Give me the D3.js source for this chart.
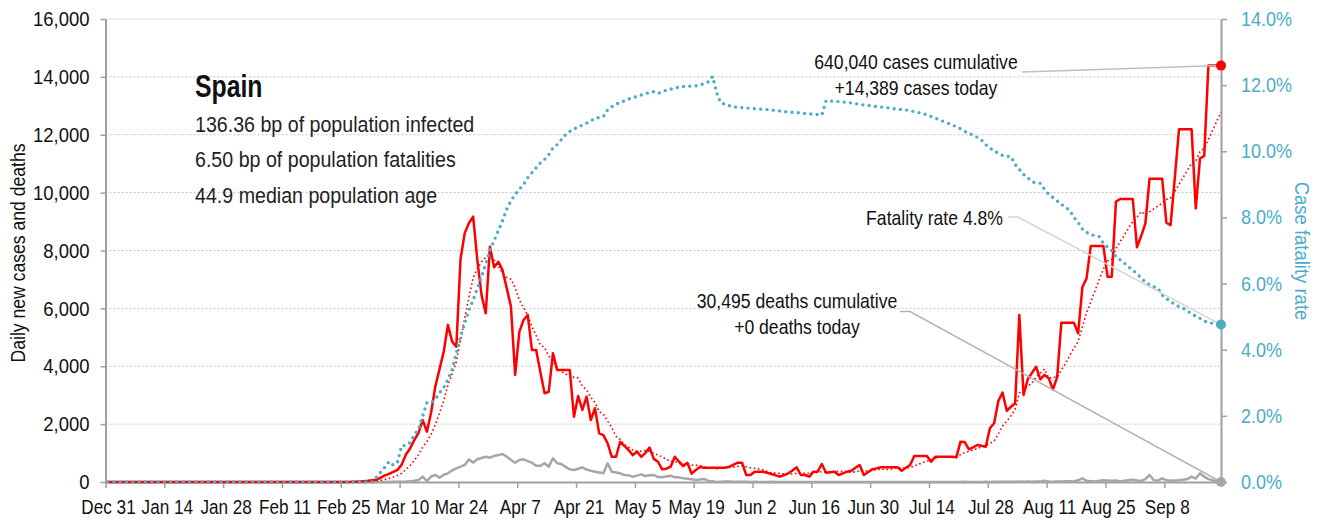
<!DOCTYPE html>
<html><head><meta charset="utf-8">
<script src="https://cdn.jsdelivr.net/npm/d3@7"></script>
<style>
body{margin:0;background:#fff;}
svg text{font-family:"Liberation Sans",Arial,sans-serif;}
</style></head><body>
<svg id="chart" width="1320" height="522"></svg>
<script>
// ---------------- DATA ----------------
const startDate = "2019-12-31";   // first day of the series, one value per day up to 2020-09-21
const dailyCases = [
  0,0,0,0,0,0,0,0,0,0,
  0,0,0,0,0,0,0,0,0,0,
  0,0,0,0,0,0,0,0,0,0,
  0,0,1,0,0,0,0,0,0,0,
  0,1,0,0,0,0,0,0,0,0,
  0,0,0,0,0,0,2,4,6,12,
  20,30,40,60,80,150,230,280,350,420,
  600,950,1160,1450,1700,2140,1740,2400,3300,3900,
  4500,5430,4850,4680,7700,8600,8950,9170,7670,6460,
  5830,8130,7420,7610,7320,6700,6060,3700,5190,5600,
  5770,4560,4560,3800,3065,3120,4450,3870,3870,3870,
  3870,2256,2970,2490,2950,2140,2550,1680,1620,1340,
  870,870,1390,1250,1106,930,1050,870,1000,1190,
  800,700,440,460,530,874,700,553,667,290,
  415,520,495,495,495,495,495,495,530,600,
  667,667,242,242,357,357,357,320,276,230,
  184,240,300,400,507,242,242,184,357,357,
  622,322,340,357,242,300,357,391,490,587,
  242,340,439,470,507,507,507,507,507,391,
  490,587,898,898,898,898,702,874,874,874,
  874,874,853,1393,1380,1130,1200,1278,1250,1220,
  1855,2028,2800,3090,2460,2600,2720,5770,3006,3550,
  3770,3980,3550,3700,3580,3200,3620,5500,5500,5500,
  5500,5140,6730,7040,8155,8155,8155,8155,7094,7094,
  9690,9780,9780,9780,9780,8110,8500,8940,10480,10480,
  10480,10480,8960,8880,10500,12187,12187,12187,12187,9457,
  11185,11265,14389,14389,14389,14389
];
const dailyDeaths = [
  0,0,0,0,0,0,0,0,0,0,
  0,0,0,0,0,0,0,0,0,0,
  0,0,0,0,0,0,0,0,0,0,
  0,0,0,0,0,0,0,0,0,0,
  0,0,0,0,0,0,0,0,0,0,
  0,0,0,0,0,0,0,0,0,0,
  0,0,0,0,1,1,2,3,5,8,
  10,15,25,40,70,184,30,190,240,150,
  250,300,400,470,530,590,780,670,784,830,
  874,840,898,930,967,874,760,667,760,784,
  720,667,560,560,646,530,819,646,622,520,
  439,415,460,507,430,391,357,330,300,646,
  357,330,300,242,230,184,220,265,207,230,
  242,170,162,190,218,162,160,128,110,93,
  69,90,104,35,30,0,10,20,15,5,
  5,10,5,2,5,2,3,2,5,3,
  2,3,2,1,2,3,1,2,3,2,
  1,2,1,2,3,1,2,3,1,2,
  1,2,3,1,2,1,2,3,1,2,
  2,1,3,2,1,2,3,1,2,2,
  3,2,4,2,5,3,2,4,3,5,
  4,6,5,8,10,6,5,20,10,15,
  10,15,20,45,20,10,15,20,25,30,
  20,60,128,40,30,20,40,60,50,40,
  50,30,40,60,80,50,40,100,242,60,
  50,128,60,40,50,60,80,100,184,120,
  300,184,100,60,20,0
];
const fatalityRate = [ // case fatality rate, percent
  0,0,0,0,0,0,0,0,0,0,
  0,0,0,0,0,0,0,0,0,0,
  0,0,0,0,0,0,0,0,0,0,
  0,0,0,0,0,0,0,0,0,0,
  0,0,0,0,0,0,0,0,0,0,
  0,0,0,0,0,0,0,0,0,0,
  0,0,0,0,0.15,0.3,0.45,0.62,0.51,0.6,
  1.1,1.1,1.2,1.42,1.6,2.0,2.4,2.4,2.5,2.7,
  2.85,3.1,3.4,3.9,4.4,4.8,5.2,5.5,5.85,6.2,
  6.6,7.0,7.3,7.6,7.9,8.25,8.5,8.7,8.85,9.0,
  9.2,9.35,9.5,9.65,9.75,9.9,10.1,10.2,10.35,10.5,
  10.6,10.68,10.72,10.8,10.85,10.92,11.0,11.02,11.05,11.25,
  11.35,11.42,11.48,11.52,11.58,11.62,11.66,11.7,11.74,11.78,
  11.8,11.75,11.8,11.85,11.88,11.9,11.95,11.96,11.97,11.97,
  11.98,12.0,12.05,12.1,12.26,11.75,11.45,11.43,11.38,11.35,
  11.33,11.32,11.31,11.3,11.29,11.28,11.27,11.26,11.25,11.23,
  11.22,11.2,11.19,11.18,11.17,11.16,11.14,11.13,11.12,11.11,
  11.1,11.53,11.52,11.51,11.5,11.49,11.48,11.46,11.44,11.42,
  11.4,11.39,11.37,11.35,11.34,11.32,11.31,11.29,11.28,11.26,
  11.25,11.22,11.2,11.17,11.15,11.1,11.05,11.0,10.95,10.9,
  10.85,10.8,10.74,10.68,10.6,10.54,10.49,10.42,10.34,10.2,
  10.1,10.0,9.95,9.87,9.85,9.84,9.6,9.45,9.3,9.2,
  9.08,9.05,9.03,8.85,8.7,8.6,8.5,8.4,8.3,8.22,
  8.0,7.85,7.65,7.55,7.48,7.45,7.42,7.22,7.1,7.0,
  6.81,6.72,6.62,6.5,6.41,6.3,6.16,6.05,5.96,5.9,
  5.86,5.65,5.55,5.45,5.38,5.3,5.25,5.18,5.08,5.02,
  4.95,4.87,4.82,4.8,4.78,4.76
];
const leftTicks = [0,2000,4000,6000,8000,10000,12000,14000,16000];
const rightTicks = [0,2,4,6,8,10,12,14];
const xTickDates = ["2019-12-31","2020-01-14","2020-01-28","2020-02-11","2020-02-25","2020-03-10",
  "2020-03-24","2020-04-07","2020-04-21","2020-05-05","2020-05-19","2020-06-02","2020-06-16",
  "2020-06-30","2020-07-14","2020-07-28","2020-08-11","2020-08-25","2020-09-08"];
const xTickLabels = ["Dec 31","Jan 14","Jan 28","Feb 11","Feb 25","Mar 10","Mar 24","Apr 7","Apr 21",
  "May 5","May 19","Jun 2","Jun 16","Jun 30","Jul 14","Jul 28","Aug 11","Aug 25","Sep 8"];
const countryName = "Spain";
const statLines = ["136.36 bp of population infected","6.50 bp of population fatalities","44.9 median population age"];
const casesNote = ["640,040 cases cumulative","+14,389 cases today"];
const deathsNote = ["30,495 deaths cumulative","+0 deaths today"];
const rateNote = "Fatality rate 4.8%";
const leftTitle = "Daily new cases and deaths";
const rightTitle = "Case fatality rate";

// ---------------- CHART ----------------
const RED="#ff0000", BLUE="#4bacc6", GREY="#a6a6a6", AXIS="#a0a0a0";
const SX=0.88; // horizontal condensing of the text face
const P={left:105.5,right:1221,top:19,bottom:482};
const svg=d3.select("#chart");
const parse=d3.utcParse("%Y-%m-%d");
const t0=parse(startDate);
const dates=dailyCases.map((_,i)=>d3.utcHour.offset(d3.utcDay.offset(t0,i),12));
const x=d3.scaleUtc().domain([t0,dates[dates.length-1]]).range([P.left,P.right]);
const yL=d3.scaleLinear().domain([0,16000]).range([P.bottom,P.top]);
const yR=d3.scaleLinear().domain([0,14]).range([P.bottom,P.top]);

function condense(sel,sx=SX){
  sel.each(function(){
    const t=d3.select(this);
    const xv=+(t.attr("x")||0);
    t.attr("x",xv/sx);
    const dx=t.attr("dx");
    if(dx!=null && !isNaN(+dx)) t.attr("dx",(+dx)/sx);
    const tr=t.attr("transform")||"";
    t.attr("transform",(tr+` scale(${sx},1)`).trim());
  });
  return sel;
}

// 7-day trailing average of daily cases (trend line)
const trend=dailyCases.map((v,i)=>i<6?null:d3.mean(dailyCases.slice(i-6,i+1)));

// grid
svg.append("g").selectAll("line").data(leftTicks.filter(v=>v>0)).join("line")
  .attr("x1",P.left).attr("x2",P.right).attr("y1",d=>yL(d)).attr("y2",d=>yL(d))
  .attr("stroke","#c4c4c4").attr("stroke-width",1).attr("stroke-dasharray","2,2");

// axes
const gL=svg.append("g").attr("transform",`translate(${P.left},0)`)
  .call(d3.axisLeft(yL).tickValues(leftTicks).tickFormat(d3.format(",")).tickSize(5).tickSizeOuter(0).tickPadding(11));
const gR=svg.append("g").attr("transform",`translate(${P.right},0)`)
  .call(d3.axisRight(yR).tickValues(rightTicks).tickFormat(d=>d.toFixed(1)+"%").tickSize(6).tickSizeOuter(0).tickPadding(14));
const gB=svg.append("g").attr("transform",`translate(0,${P.bottom})`)
  .call(d3.axisBottom(x).tickValues(xTickDates.map(parse)).tickFormat((d,i)=>xTickLabels[i]).tickSize(6).tickSizeOuter(0).tickPadding(12));
[gL,gR,gB].forEach(g=>{
  g.select(".domain").attr("stroke",AXIS).attr("stroke-width",2);
  g.selectAll(".tick line").attr("stroke",AXIS).attr("stroke-width",1.5);
  g.selectAll("text").attr("font-family",null).attr("font-size",21).attr("fill","#111");
});
gR.selectAll("text").attr("fill",BLUE).attr("font-size",20.5);
gB.selectAll("text").attr("font-size",19.5).attr("dx",2.5);
[gL,gR,gB].forEach(g=>condense(g.selectAll("text")));

// axis titles
condense(svg.append("text").attr("transform","translate(25,253) rotate(-90)").attr("text-anchor","middle")
  .attr("font-size",20).attr("fill","#111").text(leftTitle));
condense(svg.append("text").attr("transform","translate(1295,251) rotate(90)").attr("text-anchor","middle")
  .attr("font-size",21).attr("fill",BLUE).text(rightTitle));

// series
const lineL=d3.line().defined(d=>d!=null).x((d,i)=>x(dates[i])).y(d=>yL(d));
const lineR=d3.line().x((d,i)=>x(dates[i])).y(d=>yR(d));
svg.append("path").attr("d",lineL(dailyDeaths)).attr("fill","none").attr("stroke",GREY).attr("stroke-width",2.5).attr("stroke-linejoin","round");
svg.append("path").attr("d",lineL(dailyCases)).attr("fill","none").attr("stroke",RED).attr("stroke-width",2.5).attr("stroke-linejoin","round");
svg.append("path").attr("d",lineL(trend)).attr("fill","none").attr("stroke",RED).attr("stroke-width",1.6).attr("stroke-dasharray","1.6,2.6");
svg.append("path").attr("d",lineR(fatalityRate)).attr("fill","none").attr("stroke",BLUE).attr("stroke-width",3.4)
  .attr("stroke-linecap","round").attr("stroke-dasharray","0,6.3");

// annotations
const last=dailyCases.length-1;
const xl=x(dates[last]);
function leader(points,color){
  svg.append("polyline").attr("points",points.map(p=>p.join(",")).join(" "))
    .attr("fill","none").attr("stroke",color).attr("stroke-width",1.5);
}
leader([[1022,72],[xl,yL(dailyCases[last])]],"#c0c0c0");
leader([[1008,217],[1018,217],[xl,yR(fatalityRate[last])]],"#d4d4d4");
leader([[900,311.5],[910,311.5],[xl,yL(dailyDeaths[last])]],"#b4b4b4");

svg.append("circle").attr("cx",xl).attr("cy",yL(dailyCases[last])).attr("r",5).attr("fill",RED);
svg.append("circle").attr("cx",xl).attr("cy",yR(fatalityRate[last])).attr("r",5).attr("fill",BLUE);
svg.append("circle").attr("cx",xl).attr("cy",yL(dailyDeaths[last])).attr("r",5).attr("fill",GREY);

condense(svg.append("text").attr("x",195).attr("y",97).attr("font-size",31).attr("font-weight","bold").attr("fill","#111").text(countryName),0.8);
condense(svg.append("g").selectAll("text").data(statLines).join("text")
  .attr("x",195).attr("y",(d,i)=>132+i*35.5).attr("font-size",22.3).attr("fill","#222").text(d=>d));
condense(svg.append("g").selectAll("text").data(casesNote).join("text")
  .attr("x",916).attr("y",(d,i)=>69+i*26).attr("text-anchor","middle").attr("font-size",20).attr("fill","#111").text(d=>d));
condense(svg.append("g").selectAll("text").data(deathsNote).join("text")
  .attr("x",797).attr("y",(d,i)=>308+i*26).attr("text-anchor","middle").attr("font-size",20).attr("fill","#111").text(d=>d));
condense(svg.append("text").attr("x",1003).attr("y",225).attr("text-anchor","end").attr("font-size",20).attr("fill","#111").text(rateNote));
</script>
</body></html>
